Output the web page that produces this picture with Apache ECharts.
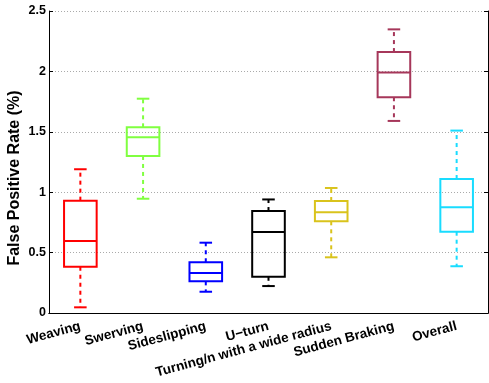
<!DOCTYPE html>
<html>
<head>
<meta charset="utf-8">
<script src="https://cdn.jsdelivr.net/npm/echarts@6/dist/echarts.min.js"></script>
<style>
  html, body { margin: 0; padding: 0; background: #fff; }
  #chart { width: 489px; height: 383px; }
</style>
</head>
<body>
<div id="chart"></div>
<script>
// categories and box statistics
var categories = ['Weaving', 'Swerving', 'Sideslipping', 'U\u2212turn', 'Turning/n with a wide radius', 'Sudden Braking', 'Overall'];
var whiskerLow = [0.047, 0.946, 0.176, 0.223, 0.461, 1.59, 0.387];
var q1 = [0.383, 1.30, 0.262, 0.30, 0.759, 1.786, 0.673];
var median = [0.596, 1.454, 0.331, 0.67, 0.833, 1.99, 0.875];
var q3 = [0.93, 1.537, 0.42, 0.844, 0.927, 2.16, 1.109];
var whiskerHigh = [1.19, 1.774, 0.582, 0.94, 1.035, 2.348, 1.51];
var colors = ['#ff0000', '#80ff40', '#0000ff', '#000000', '#d9c31c', '#a6375a', '#19dcff'];
var yTicks = [0, 0.5, 1, 1.5, 2, 2.5];
var yName = 'False Positive Rate (%)';

var font = 'Liberation Sans, Arial, Helvetica, sans-serif';

// build rows for the custom series
var rows = [];
for (var i = 0; i < categories.length; i++) {
  rows.push([i, whiskerLow[i], q1[i], median[i], q3[i], whiskerHigh[i]]);
}

function renderBox(params, api) {
  var idx = api.value(0);
  var band = api.size([1, 0])[0];
  var boxW = band * 0.52;
  var capW = band * 0.2;
  var pLow = api.coord([idx, api.value(1)]);
  var pQ1 = api.coord([idx, api.value(2)]);
  var pMed = api.coord([idx, api.value(3)]);
  var pQ3 = api.coord([idx, api.value(4)]);
  var pHigh = api.coord([idx, api.value(5)]);
  var x = pMed[0];
  var c = colors[idx];
  var solid = { stroke: c, lineWidth: 2, fill: null };
  var dashed = { stroke: c, lineWidth: 2, lineDash: [4, 4] };
  return {
    type: 'group',
    children: [
      // whiskers
      { type: 'line', shape: { x1: x, y1: pQ3[1], x2: x, y2: pHigh[1] }, style: dashed },
      { type: 'line', shape: { x1: x, y1: pQ1[1], x2: x, y2: pLow[1] }, style: dashed },
      // caps
      { type: 'line', shape: { x1: x - capW / 2, y1: pHigh[1], x2: x + capW / 2, y2: pHigh[1] }, style: solid },
      { type: 'line', shape: { x1: x - capW / 2, y1: pLow[1], x2: x + capW / 2, y2: pLow[1] }, style: solid },
      // box
      { type: 'rect', shape: { x: x - boxW / 2, y: pQ3[1], width: boxW, height: pQ1[1] - pQ3[1] }, style: solid },
      // median
      { type: 'line', shape: { x1: x - boxW / 2, y1: pMed[1], x2: x + boxW / 2, y2: pMed[1] }, style: solid }
    ]
  };
}

var myChart = echarts.init(document.getElementById('chart'));
myChart.setOption({
  animation: false,
  grid: { left: 49, top: 11, right: 1, bottom: 70 },
  // y axis title, placed like the original (a bit below the plot centre)
  graphic: [{
    type: 'text',
    x: 15,
    y: 178,
    rotation: Math.PI / 2,
    style: {
      text: yName,
      fill: '#000',
      font: 'bold 16px ' + font,
      textAlign: 'center',
      textVerticalAlign: 'middle'
    }
  }],
  xAxis: [{
    type: 'category',
    data: categories,
    position: 'bottom',
    axisLine: { lineStyle: { color: '#000', width: 1 } },
    axisTick: { inside: true, alignWithLabel: true, length: 4, lineStyle: { color: '#000' } },
    axisLabel: {
      rotate: 15, interval: 0, margin: 13,
      color: '#000', fontWeight: 'bold', fontSize: 13.5, fontFamily: font
    }
  }, {
    type: 'category',
    data: categories,
    position: 'top',
    axisLine: { show: true, lineStyle: { color: '#000', width: 1 } },
    axisTick: { inside: true, alignWithLabel: true, length: 4, lineStyle: { color: '#000' } },
    axisLabel: { show: false }
  }],
  yAxis: [{
    type: 'value',
    min: yTicks[0],
    max: yTicks[yTicks.length - 1],
    interval: 0.5,
    axisLine: { show: true, lineStyle: { color: '#000', width: 1 } },
    axisTick: { show: true, inside: true, length: 4, lineStyle: { color: '#000' } },
    axisLabel: {
      color: '#000', fontWeight: 'bold', fontSize: 12.5, fontFamily: font, margin: 3,
      formatter: function (v) { return String(v); }
    },
    splitLine: { show: true, lineStyle: { color: '#aaa', type: [1, 2], width: 1 } }
  }, {
    type: 'value',
    position: 'right',
    min: yTicks[0],
    max: yTicks[yTicks.length - 1],
    interval: 0.5,
    axisLine: { show: true, lineStyle: { color: '#000', width: 1 } },
    axisTick: { show: true, inside: true, length: 4, lineStyle: { color: '#000' } },
    axisLabel: { show: false },
    splitLine: { show: false }
  }],
  series: [{
    type: 'custom',
    xAxisIndex: 0,
    yAxisIndex: 0,
    renderItem: renderBox,
    encode: { x: 0, y: [1, 2, 3, 4, 5] },
    data: rows
  }]
});
</script>
</body>
</html>
